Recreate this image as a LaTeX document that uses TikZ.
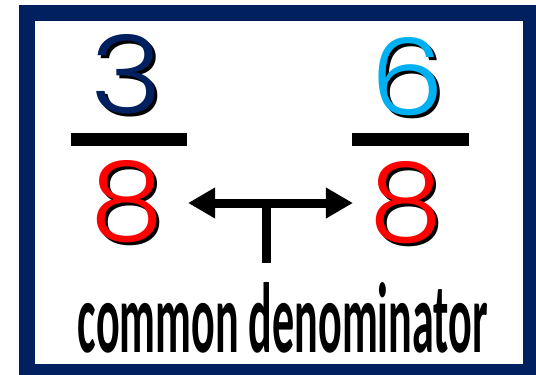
\documentclass[tikz,border=0pt]{standalone}
\usepackage{fontspec}
\usepackage{graphicx}
\usetikzlibrary{arrows.meta}
\newfontfamily\digitfont{Poppins}[UprightFont={* Light}]
\newfontfamily\wordfont{Carlito}
\definecolor{navy}{HTML}{002060}
\definecolor{skyb}{HTML}{00B0F0}
\definecolor{redd}{HTML}{FF0000}
\tikzset{
  digit/.style={inner sep=0pt, outer sep=0pt},
  fracbar/.style={fill=black, inner sep=0pt, minimum width=116pt, minimum height=13pt},
  arrowline/.style={line width=9pt, -{Triangle[length=27pt,width=29pt]}},
}
\newcommand{\dig}[3]{\resizebox{#1pt}{#2pt}{\digitfont #3}}
\begin{document}
\begin{tikzpicture}[x=1pt,y=-1pt]
\useasboundingbox (0,0) rectangle (536,375);
\fill[navy] (19,5) rectangle (536,375);
\fill[white] (35,21) rectangle (523,364);
% numerators
\node[digit, text=black] (s3) at (130,77.5) {\dig{72}{79}{3}};
\node[digit, text=navy] (n3) at (127,74.5) {\dig{72}{79}{3}};
\node[digit, text=black] (s6) at (411,80) {\dig{74}{78}{6}};
\node[digit, text=skyb] (n6) at (408,77) {\dig{74}{78}{6}};
% bars
\node[fracbar] (bar1) at (129,139.5) {};
\node[fracbar, minimum width=117pt] (bar2) at (410.5,139.5) {};
% denominators
\node[digit, text=black] (s8a) at (130.5,205) {\dig{73}{80}{8}};
\node[digit, text=redd] (d1) at (127.5,202) {\dig{73}{80}{8}};
\node[digit, text=black] (s8b) at (409.5,206) {\dig{73}{80}{8}};
\node[digit, text=redd] (d2) at (406.5,203) {\dig{73}{80}{8}};
% arrow
\coordinate (la) at ([xshift=24pt,yshift=-1pt]d1.east);
\coordinate (ra) at ([xshift=-17pt]d2.west);
\coordinate (mid) at (266,203);
\coordinate (stemend) at (266,263);
\draw[arrowline] (mid) -- (ra |- mid);
\draw[arrowline] (mid) -- (la |- mid);
\draw[line width=9pt] (mid) -- (stemend);
% label
\node[inner sep=0pt] (lbl) at (283,318) {\resizebox{410pt}{70pt}{\wordfont\bfseries common denominator}};
\end{tikzpicture}
\end{document}
